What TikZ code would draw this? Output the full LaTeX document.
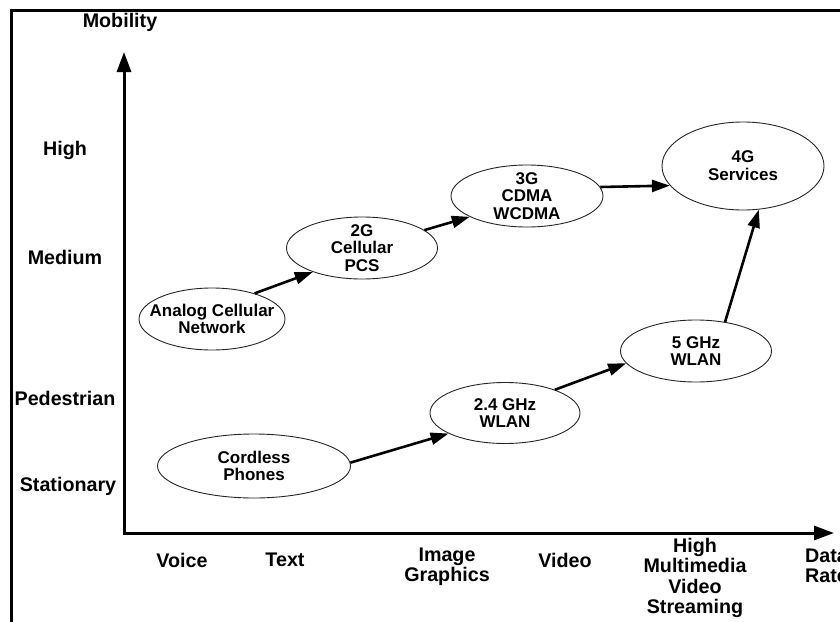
\documentclass[tikz,border=0pt]{standalone}
\usepackage{fontspec}
\setmainfont{Liberation Sans}
\usetikzlibrary{shapes.geometric,arrows.meta}
\begin{document}
\begin{tikzpicture}[x=1pt,y=-1pt,
  oval/.style={draw=black!85, ellipse, line width=0.9pt, inner sep=0pt},
  otext/.style={font=\bfseries\fontsize{17}{17.8}\selectfont, align=center, inner sep=0pt},
  lab/.style={font=\bfseries\fontsize{19.7}{20.5}\selectfont, align=center, inner sep=0pt},
  conn/.style={line width=2.6pt, -{Triangle[length=18pt,width=12pt]}},
  axisline/.style={line width=3pt, -{Triangle[length=20pt,width=14pt]}}]
\useasboundingbox (0,0) rectangle (840,621);
% frame
\coordinate (ftl) at (11.5,10);
\coordinate (ftr) at (842,10);
\coordinate (fbl) at (11.5,625);
\draw[line width=3pt] (fbl) -- (ftl) -- (ftr);
% axes
\coordinate (org) at (124,533);
\coordinate (ytip) at (124,52);
\coordinate (xtip) at (834,533);
\draw[axisline] (org) -- (ytip);
\draw[axisline] ([xshift=-1.5pt]org) -- (xtip);
% axis labels
\node[lab] (mob) at (120,22) {Mobility};
\node[lab] (yh) at (65,150) {High};
\node[lab] (ym) at (65,257) {Medium};
\node[lab] (yp) at (65,398) {Pedestrian};
\node[lab] (ys) at (68,486) {Stationary};
\node[lab] (xv) at (182,560) {Voice};
\node[lab] (xt) at (285,560) {Text};
\node[lab] (xi) at (447,567) {Image\\Graphics};
\node[lab] (xvi) at (565,560) {Video};
\node[lab] (xh) at (695,578) {High\\Multimedia\\Video\\Streaming};
\node[lab, anchor=west, align=left] (xd) at (805,566) {Data\\Rate};
% ellipses
\node[oval, minimum width=146pt, minimum height=62pt] (an) at (212,319) {};
\node[otext] (ant) at (an.center) {Analog Cellular\\Network};
\node[oval, minimum width=151pt, minimum height=62pt] (g2) at (362,248) {};
\node[otext] (g2t) at (g2.center) {2G\\Cellular\\PCS};
\node[oval, minimum width=152pt, minimum height=62pt] (g3) at (527,196) {};
\node[otext] (g3t) at (g3.center) {3G\\CDMA\\WCDMA};
\node[oval, minimum width=162pt, minimum height=88pt] (g4) at (743,166) {};
\node[otext] (g4t) at (g4.center) {4G\\Services};
\node[oval, minimum width=151pt, minimum height=62pt] (w5) at (696,351) {};
\node[otext] (w5t) at (w5.center) {5 GHz\\WLAN};
\node[oval, minimum width=150pt, minimum height=61pt] (w24) at (505,413) {};
\node[otext] (w24t) at (w24.center) {2.4 GHz\\WLAN};
\node[oval, minimum width=193pt, minimum height=64pt] (cp) at (254,466) {};
\node[otext] (cpt) at (cp.center) {Cordless\\Phones};
% connectors
\draw[conn] (an.31) -- (g2.206);
\draw[conn] (g2.16) -- (g3.200);
\draw[conn] (g3.7) -- (g4.195);
\draw[conn] (cp.2) -- (w24.200);
\draw[conn] (w24.25) -- (w5.190);
\draw[conn] (w5.45) -- (g4.290);
\end{tikzpicture}
\end{document}
